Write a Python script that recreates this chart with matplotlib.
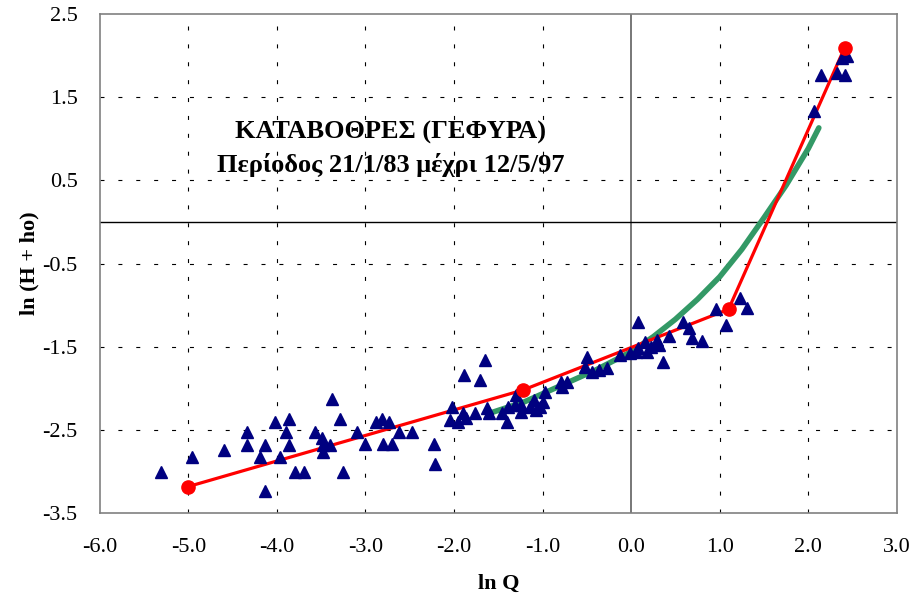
import numpy as np
import matplotlib
matplotlib.use('Agg')
import matplotlib.pyplot as plt

# Μετρήσεις (ln Q, ln(H + ho))
obs_x = [-5.31, -4.96, -4.60, -4.34, -4.34, -4.14, -4.19, -4.13, -4.02, -3.86,
         -3.90, -3.86, -3.97, -3.80, -3.69, -3.38, -3.29, -3.25, -3.57, -3.49,
         -3.48, -3.48, -3.40, -3.10,
         -3.00, -2.88, -2.81, -2.74, -2.80, -2.70, -2.62, -2.48, -2.23, -2.21,
         -2.02, -2.05, -1.96, -1.90, -1.86, -1.89,
         -1.65, -1.71, -1.76, -1.63, -1.61, -1.46, -1.40, -1.39, -1.30, -1.31,
         -1.24, -1.24, -1.14, -1.10, -1.07, -0.97, -0.99,
         -1.03, -0.79, -0.72, -0.78, -0.50, -0.52, -0.44, -0.36, -0.27, -0.12,
         -0.01, 0.08,
         0.08, 0.06, 0.16, 0.18, 0.23, 0.29, 0.31, 0.36, 0.43, 0.59,
         0.65, 0.69, 0.80, 0.96, 1.07, 1.23, 1.31,
         2.06, 2.14, 2.33, 2.41, 2.38, 2.44]
obs_y = [-3.00, -2.82, -2.74, -2.53, -2.68, -2.68, -2.82, -3.23, -2.41, -2.37,
         -2.53, -2.68, -2.82, -3.00, -3.00, -2.13, -2.37, -3.00, -2.53, -2.60,
         -2.68, -2.76, -2.68, -2.53,
         -2.67, -2.41, -2.37, -2.41, -2.67, -2.67, -2.53, -2.53, -2.67, -2.91,
         -2.23, -2.38, -2.40, -2.30, -2.36, -1.84,
         -1.66, -1.90, -2.30, -2.24, -2.30, -2.30, -2.40, -2.22, -2.08, -2.20,
         -2.20, -2.28, -2.22, -2.14, -2.26, -2.04, -2.16,
         -2.22, -1.92, -1.92, -1.98, -1.62, -1.74, -1.80, -1.78, -1.76, -1.60,
         -1.58, -1.52,
         -1.20, -1.56, -1.44, -1.56, -1.50, -1.42, -1.48, -1.68, -1.37, -1.20,
         -1.28, -1.40, -1.43, -1.05, -1.24, -0.92, -1.04,
         1.33, 1.77, 1.79, 1.77, 1.97, 1.99]

# Τμηματική ευθεία (κόμβοι)
seg_x = [-5.00, -1.22, 1.10, 2.41]
seg_y = [-3.18, -2.02, -1.05, 2.09]

# Καμπύλη (πράσινη)
curve_x = [-1.60, -1.20, -0.80, -0.40, 0.00, 0.25, 0.50, 0.75, 1.00, 1.25,
           1.50, 1.75, 2.00, 2.12]
curve_y = [-2.30, -2.16, -1.97, -1.78, -1.56, -1.38, -1.17, -0.93, -0.66, -0.33,
           0.05, 0.44, 0.88, 1.13]

x_ticks = np.arange(-6, 3.01, 1.0)
y_ticks = np.arange(-3.5, 2.51, 1.0)

plt.rcParams['font.family'] = ['Liberation Serif', 'DejaVu Serif']

fig = plt.figure(figsize=(9.16, 6.03), dpi=100)
ax = fig.add_axes([0.109, 0.149, 0.870, 0.828])

ax.set_xlim(-6, 3)
ax.set_ylim(-3.5, 2.5)

# πλέγμα
dash = (0, (3.6, 12.5))
for xv in x_ticks[1:-1]:
    if xv != 0:
        ax.axvline(xv, color='black', lw=0.8, ls=dash, zorder=1)
for yv in y_ticks[1:-1]:
    ax.axhline(yv, color='black', lw=0.8, ls=dash, zorder=1)
ax.axvline(0, color='#606060', lw=1.2, zorder=1)
ax.axhline(0, color='black', lw=1.0, zorder=1)

ax.plot(curve_x, curve_y, color='#339966', lw=4, solid_capstyle='round',
        solid_joinstyle='round', zorder=2)
ax.plot(seg_x, seg_y, color='#FF0000', lw=2.3, zorder=3)
ax.plot(obs_x, obs_y, ls='none', marker='^', ms=9, color='#000080', zorder=4)
ax.plot(seg_x, seg_y, ls='none', marker='o', ms=9.5, color='#FF0000', zorder=5)

ax.set_xticks(x_ticks)
ax.set_yticks(y_ticks)
ax.set_xticklabels([f'{v:.1f}' for v in x_ticks])
ax.set_yticklabels([f'{v:.1f}' for v in y_ticks])
ax.tick_params(axis='x', length=0, labelsize=16, pad=18)
ax.tick_params(axis='y', length=0, labelsize=16, pad=16)

for s in ax.spines.values():
    s.set_color('#808080')
    s.set_linewidth(1.2)

ax.set_xlabel('ln Q', fontsize=16, fontweight='bold', labelpad=12)
ax.set_ylabel('ln (H + ho)', fontsize=16, fontweight='bold', labelpad=2)

ax.text(-2.72, 1.07, 'ΚΑΤΑΒΟΘΡΕΣ (ΓΕΦΥΡΑ)', ha='center', va='center',
        fontsize=19, fontweight='bold')
ax.text(-2.72, 0.68, 'Περίοδος 21/1/83 μέχρι 12/5/97', ha='center', va='center',
        fontsize=19, fontweight='bold')

fig.savefig('out.png', dpi=100)
